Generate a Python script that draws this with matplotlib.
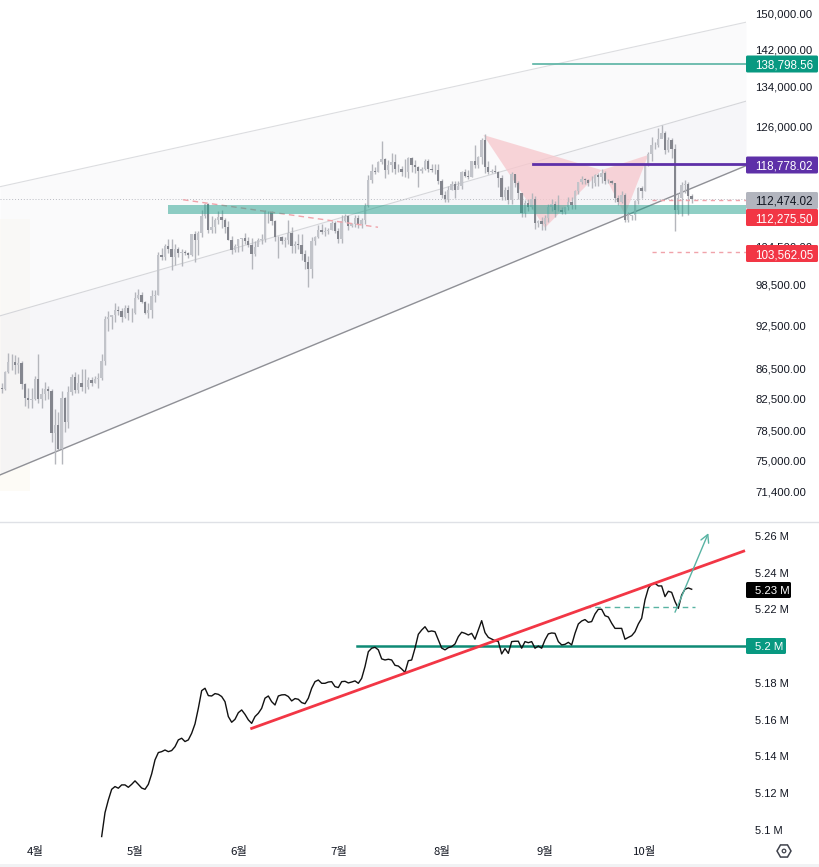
import numpy as np
import matplotlib
matplotlib.use("Agg")
import matplotlib.pyplot as plt
from matplotlib.patches import FancyBboxPatch, RegularPolygon, Polygon, Rectangle
from matplotlib.lines import Line2D
from matplotlib.ticker import NullLocator, FixedFormatter, FixedLocator

# ---- price candles (thousands), first candle on 22 March; day 0 = 1 April ----
first_day = -10
first_open = 83.9
closes = [
 83.8,86.0,87.4,87.3,86.9,87.2,84.4,82.6,82.4,82.5,
 85.1,82.5,83.1,83.8,83.5,78.2,79.2,76.3,82.6,79.6,83.4,85.3,83.7,84.5,84.0,84.0,84.9,84.5,85.1,85.2,87.5,93.4,93.7,93.9,94.7,94.6,93.7,95.0,94.2,94.2,
 96.5,96.9,95.9,94.3,94.7,96.8,97.0,103.2,102.9,104.6,104.1,102.8,104.1,103.5,103.7,103.5,103.1,106.5,105.6,106.8,109.6,111.7,107.3,107.8,109.0,109.4,108.9,107.8,105.6,103.9,104.6,
 105.7,105.9,105.4,104.7,103.3,104.4,105.6,105.7,110.3,110.2,108.7,106.0,106.0,105.5,105.6,106.8,104.6,104.9,104.7,103.3,102.1,100.9,105.4,106.0,107.3,106.9,107.0,107.3,108.4,107.1,
 105.7,108.8,109.6,107.9,108.2,109.2,108.3,108.9,111.3,115.9,117.5,117.4,119.1,119.8,117.7,118.6,119.2,117.9,117.9,117.3,117.4,120.0,118.7,118.3,117.6,117.9,119.4,117.9,117.8,117.8,115.7,
 113.3,112.5,114.2,115.1,114.1,114.9,117.4,116.7,116.5,119.3,118.7,120.1,123.3,118.3,117.4,117.5,117.4,116.2,112.9,114.2,112.4,116.9,115.3,113.5,110.1,111.8,111.2,112.5,108.4,108.8,108.2,
 109.2,111.2,111.7,110.7,110.7,110.2,111.1,112.0,111.5,113.9,115.5,116.0,115.9,115.3,115.4,116.8,116.4,117.1,115.7,115.7,115.3,112.7,112.0,113.3,109.0,109.6,109.7,112.1,114.4,114.0,
 118.6,120.6,122.3,122.4,123.5,124.7,121.4,123.3,121.7,110.6,112.7,115.0,115.2,113.0,112.47]
highs = [
 84.5,86.2,88.6,88.5,88.3,88.0,87.5,84.6,83.9,83.9,
 85.5,88.4,83.9,84.7,84.2,83.8,81.2,80.8,83.5,82.7,84.2,85.8,86.0,85.8,86.4,86.4,85.4,85.4,85.5,85.9,88.4,93.8,94.5,94.0,95.7,95.3,95.0,95.5,95.4,95.0,
 97.4,97.9,97.4,96.0,95.8,97.7,97.7,103.7,104.3,104.9,105.8,105.7,105.0,104.4,104.2,104.0,103.7,106.6,107.0,107.0,110.7,111.9,111.9,109.6,109.3,110.4,110.7,109.3,108.8,106.3,105.0,
 105.8,105.9,106.8,106.0,105.9,105.4,105.9,106.5,110.6,110.4,110.4,108.9,106.2,106.2,106.1,108.9,107.7,105.5,106.5,106.5,103.9,103.0,106.0,106.3,108.0,108.2,107.8,107.6,108.8,108.8,
 107.5,109.7,110.0,109.7,108.4,109.7,109.7,109.2,111.9,116.8,118.9,118.2,119.4,123.2,120.0,119.5,120.9,120.6,118.9,118.5,119.7,120.2,120.1,119.5,118.5,118.3,119.8,119.8,118.8,118.8,118.9,
 116.0,113.9,114.8,115.7,115.7,115.7,117.6,117.9,117.7,119.3,122.3,120.3,123.7,124.5,119.3,117.9,118.6,117.6,116.8,114.6,114.8,117.4,117.0,115.7,113.6,112.4,112.6,113.5,113.0,108.9,109.5,
 109.8,111.7,112.6,112.2,113.3,111.2,111.2,112.8,112.9,114.2,115.5,116.7,116.3,116.1,116.7,117.0,117.2,117.9,117.5,116.1,115.9,115.3,113.3,114.0,113.5,110.3,109.7,112.3,114.7,114.8,
 118.7,121.0,123.9,122.9,125.7,126.2,125.1,124.0,123.8,122.5,113.5,115.5,115.9,115.6,113.4]
lows = [
 83.2,83.6,85.9,86.3,85.8,85.9,83.8,81.6,81.3,81.3,
 82.4,82.0,81.3,82.3,82.5,77.2,74.5,76.2,74.6,78.4,78.9,83.0,83.2,83.2,83.5,83.2,83.8,84.2,84.6,83.9,85.0,87.0,91.7,92.0,92.9,93.9,92.9,93.6,93.3,92.9,
 94.1,96.3,95.7,94.1,93.5,93.6,95.9,96.9,102.4,102.4,103.4,100.8,101.5,102.8,101.4,103.1,102.7,103.0,102.1,103.1,106.1,109.3,106.8,106.8,106.8,108.3,107.5,106.8,105.6,103.3,103.6,
 103.7,103.8,104.9,104.5,101.0,103.0,104.9,105.0,105.3,108.4,108.1,105.5,102.7,104.9,104.4,104.9,103.4,103.4,104.1,102.4,100.9,98.2,99.6,104.7,105.9,106.5,106.2,106.5,107.3,106.7,
 105.1,105.1,108.5,107.3,107.8,107.8,107.5,107.6,108.3,111.2,115.3,116.9,117.3,118.9,116.3,117.0,117.4,117.0,117.3,116.6,116.5,116.2,117.3,117.2,114.7,117.2,117.8,117.3,117.3,116.9,115.1,
 112.7,112.0,112.0,114.1,112.7,114.3,114.3,116.4,116.0,116.5,118.1,118.1,118.9,117.2,116.9,117.2,117.2,114.7,112.4,112.4,111.6,111.7,114.6,112.5,109.4,109.4,110.4,110.8,107.4,107.7,107.3,
 107.3,108.6,110.5,109.4,110.5,110.0,110.0,110.6,110.8,110.8,113.4,115.2,115.1,114.9,114.4,114.8,114.8,115.4,115.1,115.4,115.1,112.0,111.5,111.9,108.6,108.6,109.0,109.0,111.6,112.7,
 113.9,118.4,119.3,121.6,122.0,123.9,120.6,121.1,119.9,107.0,109.9,109.6,113.5,109.8,111.9]

# ---- lower panel line (millions), daily from day 20 ----
line_first_day = 20
line_values = [
 5.0964,5.1094,5.1163,5.1221,5.1236,5.1227,5.1245,5.1245,5.1232,5.1248,5.1267,5.1248,5.1228,5.1221,5.1248,5.1305,5.1381,5.1421,5.1426,5.1435,
 5.1426,5.1432,5.1453,5.1490,5.1499,5.1481,5.1490,5.1526,5.1577,5.1662,5.1758,5.1771,5.1731,5.1729,5.1742,5.1738,5.1726,5.1698,5.1617,5.1586,
 5.1602,5.1638,5.1653,5.1629,5.1599,5.1580,5.1617,5.1635,5.1662,5.1717,5.1729,5.1698,5.1680,5.1729,5.1735,5.1736,5.1726,5.1702,5.1715,5.1711,
 5.1693,5.1687,5.1717,5.1771,5.1807,5.1816,5.1798,5.1798,5.1805,5.1807,5.1780,5.1775,5.1807,5.1809,5.1800,5.1805,5.1811,5.1798,5.1825,5.1889,
 5.1970,5.1989,5.1994,5.1980,5.1931,5.1925,5.1929,5.1925,5.1896,5.1892,5.1876,5.1858,5.1921,5.1925,5.1989,5.2065,5.2088,5.2106,5.2079,5.2083,
 5.2079,5.2034,5.1990,5.1980,5.1992,5.1998,5.2012,5.2052,5.2076,5.2070,5.2061,
 5.2070,5.2038,5.2088,5.2139,5.2074,5.2048,5.2039,5.2030,5.2025,5.1958,5.1987,5.1961,5.2025,5.2027,5.2027,5.1989,5.2025,5.2019,5.2025,5.1989,
 5.2001,5.1989,5.2034,5.2067,5.2072,5.2070,5.2025,5.2007,5.2010,5.2021,5.2007,5.2070,5.2121,5.2137,5.2145,5.2130,5.2134,5.2175,5.2201,5.2201,
 5.2166,5.2159,5.2125,5.2097,5.2097,5.2097,5.2038,5.2048,5.2057,5.2079,5.2121,5.2152,5.2252,5.2315,5.2339,5.2342,5.2328,5.2328,5.2270,5.2299,
 5.2293,5.2243,5.2206,5.2279,5.2310,5.2317,5.2310]

# ---- axis labels ----
month_days = [0, 30, 61, 91, 122, 153, 183]
month_labels = ["4월", "5월", "6월", "7월", "8월", "9월", "10월"]
price_ticks = [150000, 142000, 134000, 126000, 104500, 98500, 92500, 86500, 82500, 78500, 75000, 71400]
lower_ticks = [5.26, 5.24, 5.22, 5.18, 5.16, 5.14, 5.12, 5.10]

# ---- levels and drawings ----
level_target = 138798.56
level_purple = 118778.02
level_last = 112474.02
level_red1 = 112275.50
level_red2 = 103562.05
zone_low, zone_high = 110000, 111400
channel_days = [-10.5, 213.3]
channel_upper = [114700, 148100]
channel_mid = [93850, 131000]
channel_lower = [73300, 118500]
pattern_days = [134.5, 153, 170, 177, 184]
pattern_prices = [124300, 107600, 117700, 109800, 120500]
trend_days = [44.4, 102.9]
trend_prices = [112400, 107700]
support_days = [64.6, 213]
support_values = [5.1550, 5.2520]
flat_level = 5.2
last_value = 5.23
dash_level = 5.2215
arrow_days = [192, 202]
arrow_values = [5.2185, 5.2615]

FW, FH = 820, 867
PLOT_W = 746
FONT = ["Liberation Sans", "DejaVu Sans"]
KFONT = ["Noto Sans CJK KR", "DejaVu Sans"]
TXT = "#131722"
plt.rcParams["font.family"] = FONT

fig = plt.figure(figsize=(FW / 100, FH / 100), dpi=100, facecolor="white")

def px_axes(top, bottom):
    return fig.add_axes([0, (FH - bottom) / FH, PLOT_W / FW, (bottom - top) / FH])

ax = px_axes(0, 522)
ax2 = px_axes(522, 838)
xlim = (-10.5, 213.3)
for a in (ax, ax2):
    a.set_xlim(*xlim)
    a.patch.set_alpha(0)
    for s in a.spines.values():
        s.set_visible(False)

# upper panel
ax.set_yscale("log")
ax.set_ylim(68130, 153297)
ax.yaxis.tick_right()
ax.yaxis.set_major_locator(FixedLocator(price_ticks))
ax.yaxis.set_major_formatter(FixedFormatter([f"{v:,.2f}" for v in price_ticks]))
ax.yaxis.set_minor_locator(NullLocator())
ax.tick_params(axis="y", length=0, pad=6.5, labelsize=8.2, labelcolor=TXT)
ax.set_xticks([])

# faint left tint and channel fills
ax.axvspan(-10.5, -1.5, ymin=0.06, ymax=0.58, color="#fdfbf6", zorder=0.5, lw=0)
ax.fill_between(channel_days, channel_mid, channel_upper, color="#f4f4f6", alpha=0.4, lw=0, zorder=1)
ax.fill_between(channel_days, channel_lower, channel_mid, color="#eeeef4", alpha=0.5, lw=0, zorder=1)
ax.plot(channel_days, channel_upper, color="#dcdde0", lw=0.8, zorder=2)
ax.plot(channel_days, channel_mid, color="#d5d6da", lw=0.8, zorder=2)
ax.plot(channel_days, channel_lower, color="#8f9096", lw=1.0, zorder=2)

# harmonic pattern
pts = list(zip(pattern_days, pattern_prices))
ax.add_patch(Polygon([pts[0], pts[1], pts[2]], closed=True, fc="#f7c9ce", ec="none", alpha=0.78, zorder=2.5))
ax.add_patch(Polygon([pts[2], pts[3], pts[4]], closed=True, fc="#f7c9ce", ec="none", alpha=0.78, zorder=2.5))

# candles
c = np.array(closes) * 1000
o = np.concatenate([[first_open * 1000], c[:-1]])
h = np.array(highs) * 1000
l = np.array(lows) * 1000
days = first_day + np.arange(len(c))
up = c >= o
ax.vlines(days, l, h, color="#b4b6bc", lw=1.0, zorder=3)
ax.bar(days[up], (c - o)[up], bottom=o[up], width=0.7, color="#c2c4ca", lw=0, zorder=3.2)
ax.bar(days[~up], (o - c)[~up], bottom=c[~up], width=0.7, color="#84868e", lw=0, zorder=3.2)

# levels
ax.plot(xlim, [level_last] * 2, color="#b9bbc2", lw=0.7, ls=(0, (1, 2)), zorder=2.2)
ax.fill_between([(168 - 35) / 3.333, xlim[1]], zone_low, zone_high, color="#22a08c", alpha=0.5, lw=0, zorder=4)
ax.plot(trend_days, trend_prices, color="#f0a3aa", lw=1.0, ls=(0, (4, 3)), zorder=3.5)
ax.plot([(533 - 35) / 3.333, xlim[1]], [level_target] * 2, color="#58b3a3", lw=1.2, zorder=4)
ax.plot([(533 - 35) / 3.333, xlim[1]], [level_purple] * 2, color="#5e30a8", lw=2, zorder=4)
ax.plot([(652 - 35) / 3.333, xlim[1]], [level_red1] * 2, color="#f0a3aa", lw=1.0, ls=(0, (3, 3)), zorder=4)
ax.plot([(652 - 35) / 3.333, xlim[1]], [level_red2] * 2, color="#f0a3aa", lw=1.0, ls=(0, (3, 3)), zorder=4)

# lower panel
ax2.set_ylim(5.0956, 5.2676)
ax2.yaxis.tick_right()
ax2.set_yticks(lower_ticks)
ax2.set_yticklabels([f"{v:g} M" for v in lower_ticks])
ax2.tick_params(axis="y", length=0, pad=6.5, labelsize=8.0, labelcolor=TXT)
ax2.set_xticks(month_days)
ax2.set_xticklabels(month_labels, fontfamily=KFONT, fontsize=8.2, color=TXT)
ax2.tick_params(axis="x", length=0, pad=5.5)
ax2.plot(line_first_day + np.arange(len(line_values)), line_values, color="#111111", lw=1.0, zorder=3)
ax2.plot(support_days, support_values, color="#f23645", lw=2, zorder=4, solid_capstyle="butt")
ax2.plot([96.7, xlim[1]], [flat_level] * 2, color="#0f8a75", lw=1.8, zorder=2)
ax2.plot([165, 198], [dash_level] * 2, color="#58b3a3", lw=1.0, ls=(0, (4, 3)), zorder=2)
ax2.annotate("", xy=(arrow_days[1], arrow_values[1]), xytext=(arrow_days[0], arrow_values[0]),
             arrowprops=dict(arrowstyle="->,head_length=0.55,head_width=0.3", color="#58b3a3", lw=1.0, shrinkA=0, shrinkB=0),
             zorder=5)

# separators
fig.add_artist(Line2D([0, 1], [(FH - 522) / FH] * 2, color="#dfe1e6", lw=1))
fig.add_artist(Rectangle((0, 0), FW, FH - 863.5, fc="#f1f2f4", ec="none", transform=None, zorder=1))

# tags on the price scale, placed in pixels
def tag(cy, text, fc, tc, x0=746, x1=818, h=17, size=8.4):
    p = FancyBboxPatch((x0, FH - cy - h / 2), x1 - x0, h, boxstyle="round,pad=0,rounding_size=1.5",
                       fc=fc, ec="none", transform=None, zorder=5)
    fig.add_artist(p)
    fig.text(755 / FW, (FH - cy) / FH, text, color=tc, fontsize=size, va="center_baseline", ha="left", zorder=6)

tag(64, f"{level_target:,.2f}", "#089981", "white")
tag(165, f"{level_purple:,.2f}", "#5e30a8", "white")
tag(200.5, f"{level_last:,.2f}", "#b2b5be", TXT)
tag(217.5, f"{level_red1:,.2f}", "#f23645", "white")
tag(253.5, f"{level_red2:,.2f}", "#f23645", "white")
tag(590, f"{last_value:g} M", "#000000", "white", x1=791, h=16, size=8.2)
tag(646, f"{flat_level:g} M", "#089981", "white", x1=786, h=16, size=8.2)

fig.add_artist(RegularPolygon((784, FH - 851), 6, radius=7, orientation=np.pi / 2, fill=False, ec="#3f424c", lw=1.1, transform=None, zorder=5))
fig.add_artist(plt.Circle((784, FH - 851), 1.8, fill=False, ec="#3f424c", lw=0.9, transform=None, zorder=5))

fig.savefig("out.png", dpi=100)
